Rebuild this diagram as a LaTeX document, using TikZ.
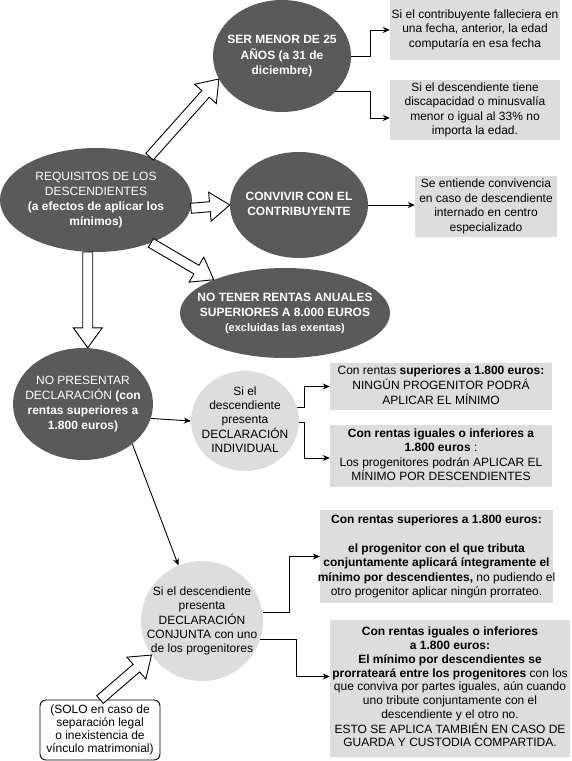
\documentclass[tikz,border=0pt]{standalone}
\usepackage{fontspec}
\setmainfont{Liberation Sans}
\usetikzlibrary{calc,arrows.meta,shapes.geometric}
\definecolor{darkg}{HTML}{5A5A5A}
\definecolor{lightg}{HTML}{DDDDDD}
\newcommand{\ztab}[1]{\makebox[0pt]{\begin{tabular}{@{}c@{}}#1\end{tabular}}}
\newcommand{\blockarrow}[2]{%
  \path ($(#2)!20pt!(#1)$) coordinate (ba-h);
  \draw[barrow] ($(#1)!5pt!90:(#2)$) -- ($(ba-h)!5pt!-90:(#1)$) -- ($(ba-h)!14.5pt!-90:(#1)$) -- (#2)
     -- ($(ba-h)!14.5pt!90:(#1)$) -- ($(ba-h)!5pt!90:(#1)$) -- ($(#1)!5pt!-90:(#2)$) -- cycle;}
\begin{document}
\begin{tikzpicture}[x=1pt,y=-1pt,
  dark/.style={ellipse, fill=darkg, text=white, inner sep=0pt, font=\fontsize{12}{15}\selectfont},
  light/.style={ellipse, fill=lightg, inner sep=0pt, font=\fontsize{12}{14}\selectfont},
  infobox/.style={rectangle, fill=lightg, inner sep=0pt, font=\fontsize{12}{14.5}\selectfont},
  conn/.style={draw, line width=0.9pt, -{Stealth[length=7pt,width=6pt]}},
  barrow/.style={draw, fill=white, line width=0.9pt, line join=miter}]
\useasboundingbox (0,0) rectangle (571,761);

% dark ellipses
\node[dark, minimum width=138pt, minimum height=112pt] (ser) at (282,56)
  {\ztab{\bfseries SER MENOR DE 25\\\bfseries AÑOS (a 31 de\\\bfseries diciembre)}};
\node[dark, minimum width=192pt, minimum height=104pt] (req) at (96,200)
  {\ztab{REQUISITOS DE LOS\\DESCENDIENTES\\\bfseries (a efectos de aplicar los\\\bfseries mínimos)}};
\node[dark, minimum width=138pt, minimum height=106pt] (conv) at (299,205)
  {\ztab{\bfseries CONVIVIR CON EL\\\bfseries CONTRIBUYENTE}};
\node[dark, minimum width=210pt, minimum height=90pt] (notener) at (285,313)
  {\ztab{\bfseries NO TENER RENTAS ANUALES\\\bfseries SUPERIORES A 8.000 EUROS\\\bfseries\fontsize{11}{14}\selectfont (excluidas las exentas)}};
\node[dark, minimum width=140pt, minimum height=112pt] (nopres) at (83,404)
  {\ztab{NO PRESENTAR\\DECLARACIÓN \textbf{(con}\\\bfseries rentas superiores a\\\bfseries 1.800 euros)}};

% light circles
\node[light, minimum width=108pt, minimum height=100pt] (indiv) at (245,421)
  {\ztab{Si el\\descendiente\\presenta\\DECLARACIÓN\\INDIVIDUAL}};
\node[light, minimum width=122pt, minimum height=120pt] (conj) at (202,621)
  {\ztab{Si el descendiente\\presenta\\DECLARACIÓN\\CONJUNTA con uno\\de los progenitores}};

% boxes
\node[infobox, minimum width=170pt, minimum height=60pt] (b1) at (475,30)
  {\ztab{Si el contribuyente falleciera en\\una fecha, anterior, la edad\\computaría en esa fecha}};
\node[infobox, minimum width=170pt, minimum height=60pt] (b2) at (475,110)
  {\ztab{Si el descendiente tiene\\discapacidad o minusvalía\\menor o igual al 33\% no\\importa la edad.}};
\node[infobox, minimum width=142pt, minimum height=61pt] (b3) at (486,206.5)
  {\ztab{Se entiende convivencia\\en caso de descendiente\\internado en centro\\especializado}};
\node[infobox, minimum width=222pt, minimum height=47pt] (b4) at (441,386.5)
  {\ztab{Con rentas \textbf{superiores a 1.800 euros:}\\NINGÚN PROGENITOR PODRÁ\\APLICAR EL MÍNIMO}};
\node[infobox, minimum width=222pt, minimum height=62pt] (b5) at (441,456)
  {\ztab{\bfseries Con rentas iguales o inferiores a\\\textbf{1.800 euros} :\\Los progenitores podrán APLICAR EL\\MÍNIMO POR DESCENDIENTES}};
\node[infobox, minimum width=233pt, minimum height=93pt] (b6) at (436.5,556.5)
  {\ztab{\bfseries Con rentas superiores a 1.800 euros:\\ \\\bfseries el progenitor con el que tributa\\\bfseries conjuntamente aplicará íntegramente el\\\textbf{mínimo por descendientes,} no pudiendo el\\otro progenitor aplicar ningún prorrateo.}};
\node[infobox, minimum width=240pt, minimum height=137pt, font=\fontsize{12}{13.8}\selectfont] (b7) at (450,688.5)
  {\ztab{\bfseries Con rentas iguales o inferiores\\\bfseries a 1.800 euros:\\\bfseries El mínimo por descendientes se\\\textbf{prorrateará entre los progenitores} con los\\que conviva por partes iguales, aún cuando\\uno tribute conjuntamente con el\\descendiente y el otro no.\\ESTO SE APLICA TAMBIÉN EN CASO DE\\GUARDA Y CUSTODIA COMPARTIDA.}};
\node[rectangle, draw, rounded corners=6pt, fill=white, line width=0.9pt, inner sep=0pt,
  minimum width=120pt, minimum height=60pt, font=\fontsize{12}{13}\selectfont] (solo) at (100,730)
  {\ztab{(SOLO en caso de\\separación legal\\o inexistencia de\\vínculo matrimonial)}};

% thin connectors
\draw[conn] (ser.east) -- ++(19,0) |- (b1.west);
\draw[conn] (ser.326) -| ($(b2.west)+(-19,8)$) -- ($(b2.west)+(0,8)$);
\draw[conn] (conv.east) -- (conv.east -| b3.west);
\draw[conn] (nopres.348) -- (indiv.west);
\draw[conn] (nopres.321) -- (conj.113);
\draw[conn] (indiv.15) -| ($(b4.west)+(-25,0)$) -- (b4.west);
\draw[conn] (indiv.358) -| ($(b5.west)+(-25,2)$) -- ($(b5.west)+(0,2)$);
\draw[conn] (conj.8) -| ($(b6.west)+(-30,0)$) -- (b6.west);
\draw[conn] (conj.342) -| ($(b7.west)+(-33,-12)$) -- ($(b7.west)+(0,-12)$);

% block arrows
\coordinate (npTop) at (req.261 |- nopres.north);
\blockarrow{req.39}{ser.200}
\blockarrow{req.355}{conv.west}
\blockarrow{req.322}{notener.155}
\blockarrow{req.261}{npTop}
\blockarrow{solo.north}{conj.214}
\end{tikzpicture}
\end{document}
